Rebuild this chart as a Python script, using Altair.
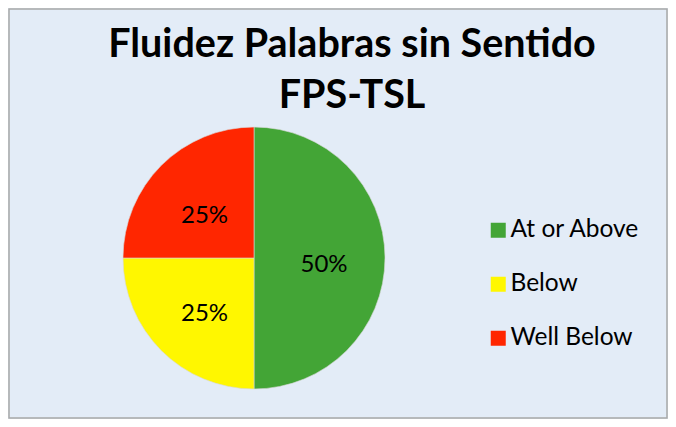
import altair as alt
import pandas as pd

categories = ["At or Above", "Below", "Well Below"]
values = [50, 25, 25]
colors = ["#43A536", "#FFF700", "#FF2600"]
title_lines = ["Fluidez Palabras sin Sentido", "FPS-TSL"]

total = sum(values)
labels = [f"{round(v * 100 / total)}%" for v in values]
df = pd.DataFrame({"category": categories, "value": values, "label": labels})

FONT = "Lato"

base = alt.Chart(df).encode(
    theta=alt.Theta("value:Q", stack=True),
    order=alt.Order("category:N", sort="ascending"),
)

arcs = base.mark_arc(radius=131, stroke="#D8D8D8", strokeWidth=0.6).encode(
    color=alt.Color(
        "category:N",
        scale=alt.Scale(domain=categories, range=colors),
        legend=alt.Legend(
            title=None,
            orient="none",
            legendX=477,
            legendY=209,
            symbolType="square",
            symbolSize=225,
            symbolStrokeWidth=0,
            labelFont=FONT,
            labelFontSize=24.5,
            labelColor="#000000",
            labelOffset=0,
            rowPadding=29,
            padding=0,
        ),
    ),
    x=alt.value(245),
    y=alt.value(249),
)

texts = base.mark_text(radius=70, dy=7, font=FONT, fontSize=24, color="#000000").encode(
    text=alt.Text("label:N"),
    x=alt.value(245),
    y=alt.value(249),
)

chart = (
    alt.layer(arcs, texts)
    .properties(
        width=658,
        height=409,
        padding=1,
        autosize=alt.AutoSizeParams(type="none"),
        background="#E3ECF7",
        title=alt.TitleParams(
            text=title_lines,
            font=FONT,
            fontSize=39.5,
            fontWeight="bold",
            color="#000000",
            anchor="middle",
            orient="top",
            baseline="top",
            offset=-107,
            dx=14,
            lineHeight=51,
        ),
    )
    .configure_view(stroke="#A8A8A8", strokeWidth=1.5, fill=None)
)

chart.save("out.html", embed_options={"renderer": "svg", "actions": False})
